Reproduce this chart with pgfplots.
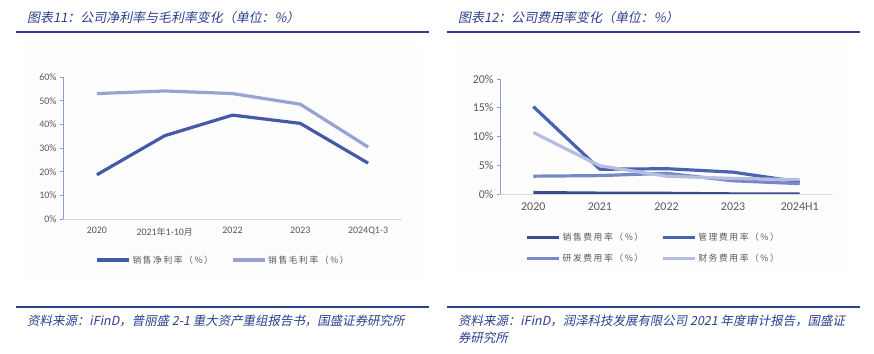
\documentclass[border=0pt]{standalone}
\usepackage{fontspec}
\usepackage{pgfplots}
\pgfplotsset{compat=1.18}
\setmainfont{Carlito}
\newfontfamily\cjk{Noto Sans CJK SC}
\newfontfamily\cjksl[FakeSlant=0.2]{Noto Sans CJK SC}
\newfontfamily\cjkleg[LetterSpace=18]{Noto Sans CJK SC}
\definecolor{titleblue}{HTML}{2B3F8E}
\definecolor{netc}{HTML}{4659A6}
\definecolor{grossc}{HTML}{98A3D4}
\definecolor{sale}{HTML}{3D4C8E}
\definecolor{mgmt}{HTML}{4A62B0}
\definecolor{rd}{HTML}{7589C9}
\definecolor{fin}{HTML}{B5BDE0}
\definecolor{tickgray}{HTML}{595959}
\definecolor{yaxisc}{HTML}{8A9AD6}
\begin{document}
\begin{tikzpicture}[x=1bp,y=1bp]
\path[use as bounding box] (0bp,0bp) rectangle (874bp,354bp);
% background panels
\fill[black!0.8] (24bp,72bp) rectangle (420bp,309bp);
\fill[black!0.8] (455bp,80bp) rectangle (847bp,309bp);
% titles
\node[anchor=west, inner sep=0] at (27bp,336bp) {\cjksl\fontsize{13}{15}\selectfont\color{titleblue}图表11：公司净利率与毛利率变化（单位：\%）};
\node[anchor=west, inner sep=0] at (458bp,336bp) {\cjksl\fontsize{13}{15}\selectfont\color{titleblue}图表12：公司费用率变化（单位：\%）};
\draw[titleblue, line width=2bp] (16bp,322bp) -- (429bp,322bp);
\draw[titleblue, line width=2bp] (447bp,322bp) -- (860bp,322bp);
% footers
\draw[titleblue, line width=2bp] (16bp,47bp) -- (429bp,47bp);
\draw[titleblue, line width=2bp] (447bp,47bp) -- (860bp,47bp);
\node[anchor=west, inner sep=0] at (27bp,33bp) {\cjksl\fontsize{12.5}{14}\selectfont\color{titleblue}资料来源：iFinD，普丽盛 2-1 重大资产重组报告书，国盛证券研究所};
\node[anchor=west, inner sep=0] at (458bp,33bp) {\cjksl\fontsize{12.5}{14}\selectfont\color{titleblue}资料来源：iFinD，润泽科技发展有限公司 2021 年度审计报告，国盛证};
\node[anchor=west, inner sep=0] at (458bp,16bp) {\cjksl\fontsize{12.5}{14}\selectfont\color{titleblue}券研究所};

\pgfplotsset{
  common/.style={
    scale only axis,
    xmin=-0.5, xmax=4.5, ymin=0,
    axis x line*=bottom, axis y line*=left,
    axis line style={-},
    x axis line style={draw=black!15, line width=0.8bp},
    y axis line style={draw=yaxisc, line width=0.8bp},
    xtick=data,
    xtick style={draw=none},
    ytick style={draw=yaxisc, line width=0.8bp},
    tick align=outside, major tick length=3bp,
    /pgf/number format/assume math mode=true,
    yticklabel={\pgfmathprintnumber{\tick}\%},
    ticklabel style={text=tickgray},
    legend style={draw=none, fill=none, inner sep=0pt, text=tickgray,
      font={\cjkleg\fontsize{8.8}{10}\selectfont},
      /tikz/every even column/.append style={column sep=16bp}},
    legend cell align=left,
    legend image code/.code={\draw[##1, line width=3.2bp] (0bp,0bp) -- (32bp,0bp);},
    every axis plot/.append style={line width=3.2bp, line join=round, mark=none},
  }
}

\begin{axis}[common,
  at={(63bp,135bp)}, anchor=south west,
  width=339bp, height=142bp,
  ymax=60, ytick={0,10,20,30,40,50,60},
  xticklabels={2020,{2021{\cjk\fontsize{9}{10}\selectfont 年}1-10{\cjk\fontsize{9}{10}\selectfont 月}},2022,2023,2024Q1-3},
  ticklabel style={font=\fontsize{10}{12}\selectfont},
  xticklabel style={yshift=-2bp},
  legend columns=2,
  legend style={at={(0.472,-0.289)}, anchor=center},
]
\addplot[netc] coordinates {(0,18.7) (1,35.2) (2,43.9) (3,40.4) (4,23.6)};
\addlegendentry{销售净利率（\%）}
\addplot[grossc] coordinates {(0,53.0) (1,54.1) (2,53.0) (3,48.5) (4,30.4)};
\addlegendentry{销售毛利率（\%）}
\end{axis}

\begin{axis}[common,
  at={(500bp,160bp)}, anchor=south west,
  width=333bp, height=115bp,
  ymax=20, ytick={0,5,10,15,20},
  xticklabels={2020,2021,2022,2023,2024H1},
  ticklabel style={font=\fontsize{12}{14}\selectfont},
  xticklabel style={yshift=-2bp},
  legend columns=2,
  legend style={at={(0.46,-0.47)}, anchor=center, row sep=8bp},
]
\addplot[sale] coordinates {(0,0.25) (1,0.15) (2,0.12) (3,0.02) (4,0.0)};
\addlegendentry{销售费用率（\%）}
\addplot[mgmt] coordinates {(0,15.2) (1,4.3) (2,4.4) (3,3.8) (4,2.1)};
\addlegendentry{管理费用率（\%）}
\addplot[rd] coordinates {(0,3.1) (1,3.2) (2,3.6) (3,2.3) (4,1.8)};
\addlegendentry{研发费用率（\%）}
\addplot[fin] coordinates {(0,10.7) (1,4.9) (2,3.1) (3,2.7) (4,2.5)};
\addlegendentry{财务费用率（\%）}
\end{axis}
\end{tikzpicture}
\end{document}
